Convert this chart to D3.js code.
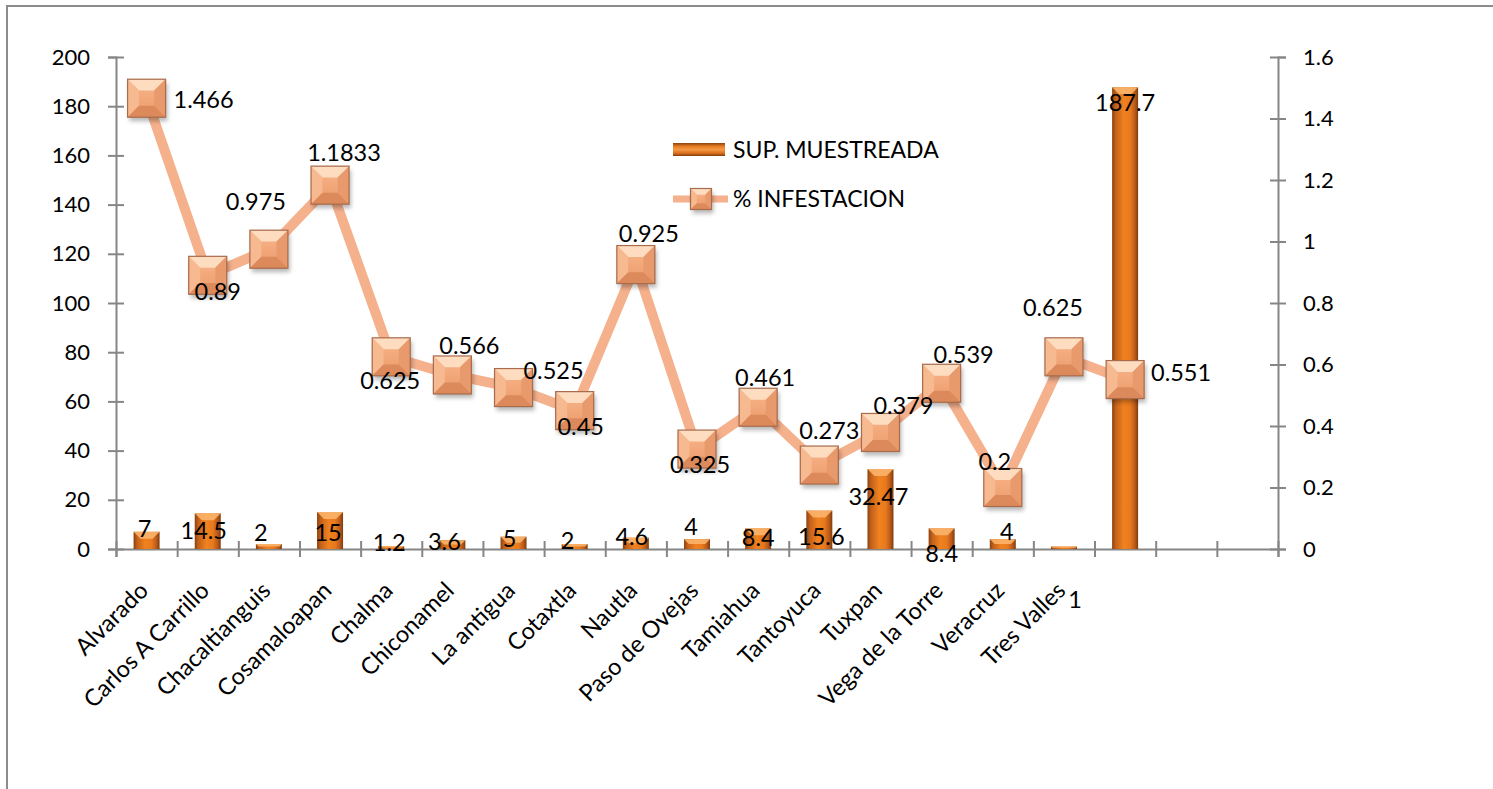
<!DOCTYPE html>
<html>
<head>
<meta charset="utf-8">
<script src="https://cdn.jsdelivr.net/npm/d3@7/dist/d3.min.js"></script>
<style>
  body { margin: 0; background: #fff; }
  text { font-family: Lato, "Open Sans", sans-serif; fill: #000; }
</style>
</head>
<body>
<svg id="chart" width="1493" height="789"></svg>
<script>
// ---- data ----
const categories = ["Alvarado", "Carlos A Carrillo", "Chacaltianguis", "Cosamaloapan", "Chalma",
  "Chiconamel", "La antigua", "Cotaxtla", "Nautla", "Paso de Ovejas", "Tamiahua", "Tantoyuca",
  "Tuxpan", "Vega de la Torre", "Veracruz", "Tres Valles", "", "", ""];
const supMuestreada = [7, 14.5, 2, 15, 1.2, 3.6, 5, 2, 4.6, 4, 8.4, 15.6, 32.47, 8.4, 4, 1, 187.7];
const infestacion = [1.466, 0.89, 0.975, 1.1833, 0.625, 0.566, 0.525, 0.45, 0.925, 0.325, 0.461,
  0.273, 0.379, 0.539, 0.2, 0.625, 0.551];
const leftTicks = [0, 20, 40, 60, 80, 100, 120, 140, 160, 180, 200];
const rightTicks = [0, 0.2, 0.4, 0.6, 0.8, 1, 1.2, 1.4, 1.6];
const seriesNames = ["SUP. MUESTREADA", "% INFESTACION"];

// data label nudges (px) as Excel placed them
const barLabelShift = [[-2,-3],[-4,17],[-8,-12],[-2,20],[-2,-4],[-8,1],[-4,2],[-7,-4],[-4,-1],
  [-6,-13],[0,9],[2,26],[-2,27],[0,25],[4,-8],[11,53],[0,15]];
const lineLabelShift = [[57,1],[10,16],[-13,-48],[14,-33],[-1,24],[17,-29],[40,-17],[6,16],[13,-31],
  [3,15],[7,-30],[10,-35],[23,-27],[22,-29],[-8,-26],[-11,-49],[56,-7]];

const svg = d3.select("#chart");
const axisColor = "#868686";

// outer frame (only left and top edges are inside the window)
svg.append("rect")
  .attr("x", 7).attr("y", 6).attr("width", 1600).attr("height", 900)
  .attr("fill", "none").attr("stroke", "#8c8c8c").attr("stroke-width", 2);

const plot = {left: 116, right: 1278, top: 57, bottom: 549};

const x = d3.scaleBand().domain(d3.range(categories.length)).range([plot.left, plot.right]).padding(0);
const yL = d3.scaleLinear().domain([0, 200]).range([plot.bottom, plot.top]);
const yR = d3.scaleLinear().domain([0, 1.6]).range([plot.bottom, plot.top]);
const cx = i => x(i) + x.bandwidth() / 2;

// ---- gradients ----
const defs = svg.append("defs");
const barGrad = defs.append("linearGradient").attr("id", "barGrad")
  .attr("x1", "0").attr("x2", "1").attr("y1", "0").attr("y2", "0");
[["0%", "#8a430f"], ["14%", "#c4611a"], ["45%", "#f0821f"], ["70%", "#e8791d"], ["88%", "#b9591a"], ["100%", "#7e3c0c"]]
  .forEach(([o, c]) => barGrad.append("stop").attr("offset", o).attr("stop-color", c));
const legGrad = defs.append("linearGradient").attr("id", "legGrad")
  .attr("x1", "0").attr("x2", "0").attr("y1", "0").attr("y2", "1");
[["0%", "#8a430f"], ["25%", "#e67a1f"], ["50%", "#f49a45"], ["80%", "#d86c1b"], ["100%", "#7e3c0c"]]
  .forEach(([o, c]) => legGrad.append("stop").attr("offset", o).attr("stop-color", c));
const faceGrad = defs.append("linearGradient").attr("id", "faceGrad")
  .attr("x1", "0").attr("x2", "0").attr("y1", "0").attr("y2", "1");
[["0%", "#f8b68c"], ["100%", "#ec9a6a"]]
  .forEach(([o, c]) => faceGrad.append("stop").attr("offset", o).attr("stop-color", c));
const shadow = defs.append("filter").attr("id", "shadow").attr("x", "-30%").attr("y", "-30%")
  .attr("width", "160%").attr("height", "160%");
shadow.append("feGaussianBlur").attr("stdDeviation", 2);

// ---- axes ----
const gLeft = svg.append("g").attr("transform", `translate(${plot.left},0)`)
  .call(d3.axisLeft(yL).tickValues(leftTicks).tickSizeOuter(0).tickSize(8).tickPadding(18));
const gRight = svg.append("g").attr("transform", `translate(${plot.right},0)`)
  .call(d3.axisRight(yR).tickValues(rightTicks).tickSizeOuter(0).tickSize(8).tickPadding(17)
    .tickFormat(d3.format("~g")));
const xEdges = d3.scaleLinear().domain([0, categories.length]).range([plot.left, plot.right]);
const gBottom = svg.append("g").attr("transform", `translate(0,${plot.bottom})`)
  .call(d3.axisBottom(xEdges).tickValues(d3.range(categories.length + 1)).tickSizeOuter(0)
    .tickSize(8).tickFormat(""));

[gLeft, gRight, gBottom].forEach(g => {
  g.select(".domain").attr("stroke", axisColor).attr("stroke-width", 2);
  g.selectAll(".tick line").attr("stroke", axisColor).attr("stroke-width", 2);
  g.selectAll(".tick text").attr("font-size", 22).attr("fill", "#000");
});
gLeft.selectAll(".tick line").attr("x1", 8).attr("x2", -8);
gRight.selectAll(".tick line").attr("x1", -8).attr("x2", 8);
gBottom.selectAll(".tick line").attr("y1", -8).attr("y2", 8);

// category labels, rotated like Excel
svg.append("g").selectAll("text")
  .data(categories)
  .join("text")
  .attr("transform", (d, i) => `translate(${cx(i) + 3},${plot.bottom + 43}) rotate(-45)`)
  .attr("text-anchor", "end")
  .attr("font-size", 23.5)
  .text(d => d);

// ---- bars ----
const barW = 26, bev = 7;
const bars = svg.append("g").selectAll("g")
  .data(supMuestreada)
  .join("g");
bars.append("rect")
  .attr("x", (d, i) => cx(i) - barW / 2)
  .attr("y", d => yL(d))
  .attr("width", barW)
  .attr("height", d => plot.bottom - yL(d))
  .attr("fill", "url(#barGrad)");
bars.append("polygon")
  .attr("points", (d, i) => {
    const x0 = cx(i) - barW / 2, x1 = cx(i) + barW / 2, y0 = yL(d);
    const b = Math.min(bev, (plot.bottom - y0) / 2);
    return `${x0},${y0} ${x1},${y0} ${x1 - b},${y0 + b} ${x0 + b},${y0 + b}`;
  })
  .attr("fill", "#fbb46c").attr("opacity", 0.9);

// ---- line ----
svg.append("path")
  .datum(infestacion)
  .attr("fill", "none")
  .attr("stroke", "#f5b08c")
  .attr("stroke-width", 10)
  .attr("stroke-linejoin", "round")
  .attr("d", d3.line().x((d, i) => cx(i)).y(d => yR(d)));

function marker(g, s) {
  const h = s / 2, b = s * 0.3;
  g.append("rect").attr("x", -h + 2).attr("y", -h + 4).attr("width", s).attr("height", s)
    .attr("fill", "rgba(0,0,0,0.28)").attr("filter", "url(#shadow)");
  g.append("rect").attr("x", -h).attr("y", -h).attr("width", s).attr("height", s)
    .attr("fill", "url(#faceGrad)");
  const tri = (pts, c) => g.append("polygon").attr("points", pts).attr("fill", c);
  tri(`${-h},${-h} ${h},${-h} ${h - b},${-h + b} ${-h + b},${-h + b}`, "#fddcc0");
  tri(`${-h},${-h} ${-h + b},${-h + b} ${-h + b},${h - b} ${-h},${h}`, "#f7b990");
  tri(`${h},${-h} ${h - b},${-h + b} ${h - b},${h - b} ${h},${h}`, "#e89a6c");
  tri(`${-h},${h} ${-h + b},${h - b} ${h - b},${h - b} ${h},${h}`, "#dc8a5c");
  g.append("rect").attr("x", -h).attr("y", -h).attr("width", s).attr("height", s)
    .attr("fill", "none").attr("stroke", "#a86b4c").attr("stroke-width", 1.2);
}

svg.append("g").selectAll("g")
  .data(infestacion)
  .join("g")
  .attr("transform", (d, i) => `translate(${cx(i)},${yR(d)})`)
  .each(function () { marker(d3.select(this), 38); });

// ---- data labels ----
svg.append("g").selectAll("text")
  .data(supMuestreada)
  .join("text")
  .attr("x", (d, i) => cx(i) + barLabelShift[i][0])
  .attr("y", (d, i) => yL(d) + barLabelShift[i][1])
  .attr("dy", "0.36em")
  .attr("text-anchor", "middle")
  .attr("font-size", 23.5)
  .text(d => d);

svg.append("g").selectAll("text")
  .data(infestacion)
  .join("text")
  .attr("x", (d, i) => cx(i) + lineLabelShift[i][0])
  .attr("y", (d, i) => yR(d) + lineLabelShift[i][1])
  .attr("dy", "0.36em")
  .attr("text-anchor", "middle")
  .attr("font-size", 23.5)
  .text(d => d);

// ---- legend ----
const leg = svg.append("g").attr("transform", "translate(673,0)");
leg.append("rect").attr("x", 0).attr("y", 143).attr("width", 52).attr("height", 13)
  .attr("fill", "url(#legGrad)");
leg.append("text").attr("x", 60).attr("y", 150).attr("dy", "0.36em")
  .attr("font-size", 23).text(seriesNames[0]);
leg.append("line").attr("x1", 0).attr("x2", 55).attr("y1", 199).attr("y2", 199)
  .attr("stroke", "#f5b08c").attr("stroke-width", 7);
marker(leg.append("g").attr("transform", "translate(28,199)"), 21);
leg.append("text").attr("x", 60).attr("y", 199).attr("dy", "0.36em")
  .attr("font-size", 23).text(seriesNames[1]);
</script>
</body>
</html>
